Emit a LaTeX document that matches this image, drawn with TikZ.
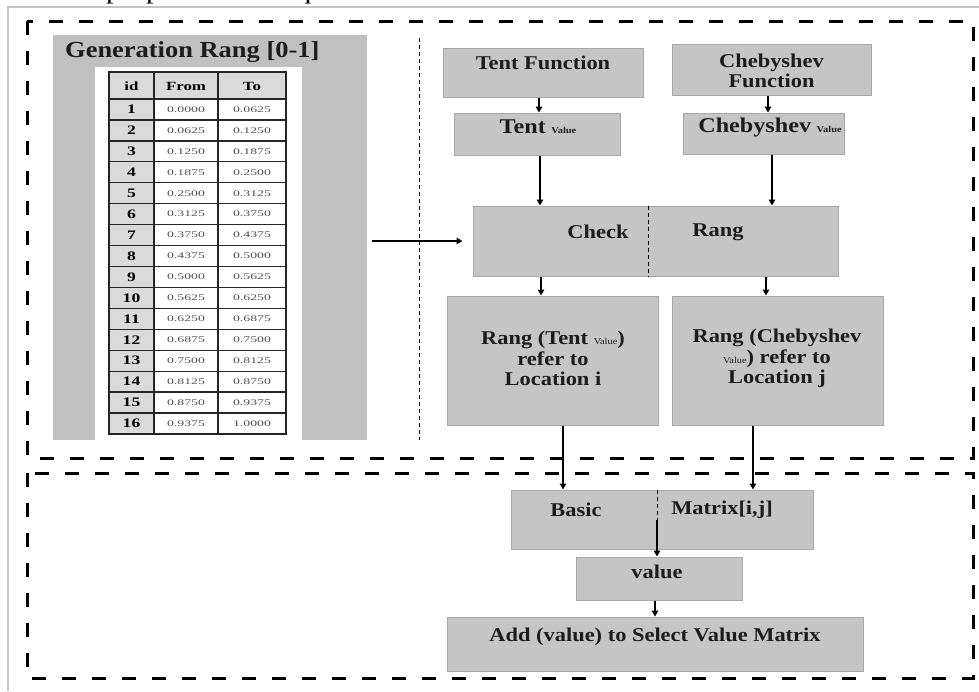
\documentclass[tikz,border=0pt]{standalone}
\usepackage{fontspec}
\setmainfont[FakeStretch=1.15]{Liberation Serif}
\newfontfamily\tabfont[FakeStretch=1.35]{Liberation Serif}
\newfontfamily\valfont[FakeStretch=1.6]{Liberation Serif}
\usetikzlibrary{arrows.meta}

\definecolor{boxgray}{HTML}{C5C5C5}
\definecolor{boxedge}{HTML}{A8A8A8}
\definecolor{panelgray}{HTML}{C0C0C0}
\definecolor{cellgray}{HTML}{DADADA}
\definecolor{framegray}{HTML}{C4C4C4}
\definecolor{inkgray}{HTML}{1C1C1C}
\definecolor{valgray}{HTML}{505050}

\begin{document}
\begin{tikzpicture}[x=1pt,y=-1pt,
  flowbox/.style={draw=boxedge, fill=boxgray, line width=1pt, inner sep=0pt},
  lbl/.style={inner sep=0pt, align=center, text=inkgray,
              font=\bfseries\fontsize{19.5}{20.5}\selectfont},
  arr/.style={-{Triangle[length=6pt,width=6.5pt]}, line width=1.3pt},
  sectbox/.style={line width=3pt, dash pattern=on 14pt off 16pt},
  tabgrid/.style={line width=1.3pt, black!85},
  headtxt/.style={inner sep=0pt, font=\tabfont\bfseries\fontsize{12.5}{13}\selectfont},
  idtxt/.style={inner sep=0pt, font=\tabfont\bfseries\fontsize{13}{14}\selectfont},
  valtxt/.style={inner sep=0pt, text=valgray, font=\valfont\fontsize{8.6}{9}\selectfont}]

\useasboundingbox (0,0) rectangle (979,691);
\fill[white] (0,0) rectangle (979,691);

% caption line running off the top of the page
\begin{scope}
  \clip (0,0) rectangle (979,691);
  \node[anchor=base west, inner sep=0pt, font=\fontsize{26}{28}\selectfont]
    (caption) at (29.6,-1.5) {of the proposed technique.};
\end{scope}

% page frame
\draw[framegray, line width=1.6pt] (979,7) -- (8,7) -- (8,691);

% the two dashed sections
\draw[sectbox] (27,21) rectangle (973,458);
\draw[sectbox] (27,473) rectangle (973,678);

% separator between the range table and the flow
\draw[line width=1pt, dash pattern=on 4pt off 3pt] (419,38) -- (419,440);

% ---------- range table panel ----------
\node[fill=panelgray, minimum width=314, minimum height=405, inner sep=0pt] (panel) at (210,237.5) {};
\fill[white] (95,67) rectangle (302,440);
\node[anchor=base west, inner sep=0pt, text=inkgray,
      font=\bfseries\fontsize{23}{25}\selectfont] (gtitle) at (65,57) {Generation Rang [0-1]};

\fill[cellgray] (109,72) rectangle (286,99);
\fill[cellgray] (109,99) rectangle (154,434);
\foreach \k in {1,...,15}
  \draw[tabgrid] (109,{99+\k*20.9375}) -- (286,{99+\k*20.9375});
\draw[tabgrid] (109,99) -- (286,99);
\foreach \xx in {154,218}
  \draw[tabgrid] (\xx,72) -- (\xx,434);
\draw[tabgrid] (109,72) rectangle (286,434);

\node[headtxt] at (131.5,86) {id};
\node[headtxt] at (186,86) {From};
\node[headtxt] at (252,86) {To};
\foreach \i/\a/\b in {1/0.0000/0.0625, 2/0.0625/0.1250, 3/0.1250/0.1875,
    4/0.1875/0.2500, 5/0.2500/0.3125, 6/0.3125/0.3750, 7/0.3750/0.4375,
    8/0.4375/0.5000, 9/0.5000/0.5625, 10/0.5625/0.6250, 11/0.6250/0.6875,
    12/0.6875/0.7500, 13/0.7500/0.8125, 14/0.8125/0.8750, 15/0.8750/0.9375,
    16/0.9375/1.0000} {
  \node[idtxt]  at (131.5,{99+(\i-0.5)*20.9375}) {\i};
  \node[valtxt] at (186,{99+(\i-0.5)*20.9375}) {\a};
  \node[valtxt] at (252,{99+(\i-0.5)*20.9375}) {\b};
}

% ---------- flow ----------
\node[flowbox, minimum width=200, minimum height=49] (tf) at (543,72.5) {};
\node[lbl] (tftxt) at (543,63) {Tent Function};

\node[flowbox, minimum width=199, minimum height=51] (cf) at (771.5,69.5) {};
\node[lbl] (cftxt) at (771.5,71) {Chebyshev\\Function};

\node[flowbox, minimum width=166, minimum height=42] (tv) at (537,134) {};
\node[lbl] (tvtxt) at (538,127) {{\fontsize{21}{22}\selectfont Tent} {\fontsize{9}{10}\selectfont Value}};

\node[flowbox, minimum width=161, minimum height=41] (cv) at (763.5,133.5) {};
\node[lbl] (cvtxt) at (770,127) {{\fontsize{21}{22}\selectfont Chebyshev} {\fontsize{9}{10}\selectfont Value}};

\node[flowbox, minimum width=365, minimum height=70] (chk) at (655.5,241) {};
\node[lbl] (chktxt) at (598,232) {Check};
\node[lbl] (rngtxt) at (718,232) {Rang};

\node[flowbox, minimum width=211, minimum height=129] (rt) at (552.5,360.5) {};
\node[lbl] (rttxt) at (553,358.5)
  {Rang (Tent {\mdseries\fontsize{9}{10}\selectfont Value})\\refer to\\Location i};

\node[flowbox, minimum width=211, minimum height=129] (rc) at (777.5,360.5) {};
\node[lbl] (rctxt) at (777,358.5)
  {Rang (Chebyshev\\{\mdseries\fontsize{9}{10}\selectfont Value}) refer to\\Location j};

\node[flowbox, minimum width=302, minimum height=59] (bm) at (662,519.5) {};
\node[lbl] (bastxt) at (576,510) {Basic};
\node[lbl] (mattxt) at (722,510) {Matrix[i,j]};

\node[flowbox, minimum width=166, minimum height=43] (val) at (659,578.5) {};
\node[lbl] (valtxt) at (657,572) {value};

\node[flowbox, minimum width=416, minimum height=54] (add) at (655,644) {};
\node[lbl] (addtxt) at (655,637) {Add (value) to Select Value Matrix};

% connector columns
\coordinate (c1) at (539,0);
\coordinate (c2) at (768,0);
\coordinate (c3) at (540,0);
\coordinate (c4) at (772,0);
\coordinate (c5) at (541,0);
\coordinate (c6) at (766,0);
\coordinate (c7) at (563,0);
\coordinate (c8) at (753,0);
\coordinate (c9) at (657,0);
\coordinate (c10) at (655,0);
\coordinate (d1) at (648,0);

% dividers inside the split boxes
\draw[line width=0.9pt, dash pattern=on 4pt off 3pt] (chk.north -| d1) -- (chk.south -| d1);
\draw[line width=0.9pt, dash pattern=on 4pt off 3pt] (bm.north -| c9) -- (bm.center -| c9);

% connectors
\draw[arr] (tf.south -| c1) -- (tv.north -| c1);
\draw[arr] (cf.south -| c2) -- (cv.north -| c2);
\draw[arr] (tv.south -| c3) -- (chk.north -| c3);
\draw[arr] (cv.south -| c4) -- (chk.north -| c4);
\draw[arr, shorten <=5pt, shorten >=10pt] (panel.east |- chk.west) -- (chk.west);
\draw[arr] (chk.south -| c5) -- (rt.north -| c5);
\draw[arr] (chk.south -| c6) -- (rc.north -| c6);
\draw[arr] (rt.south -| c7) -- (bm.north -| c7);
\draw[arr] (rc.south -| c8) -- (bm.north -| c8);
\draw[arr] (bm.center -| c9) -- (val.north -| c9);
\draw[arr] (val.south -| c10) -- (add.north -| c10);

\end{tikzpicture}
\end{document}
